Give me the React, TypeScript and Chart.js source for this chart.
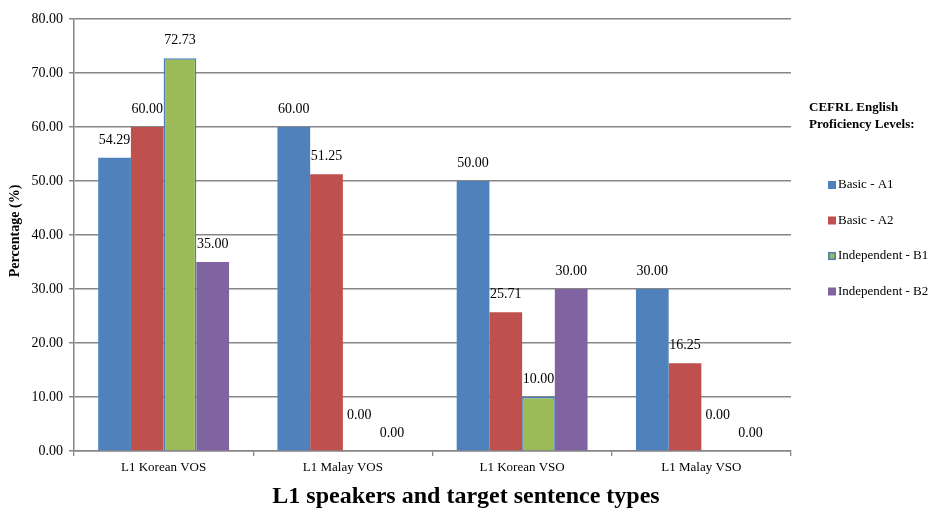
import React, { useEffect, useRef } from "react";
import { Chart, registerables } from "chart.js";

Chart.register(...registerables);

const categories = ["L1 Korean VOS", "L1 Malay VOS", "L1 Korean VSO", "L1 Malay VSO"];
const seriesNames = ["Basic - A1", "Basic - A2", "Independent - B1", "Independent - B2"];
const basicA1 = [54.29, 60.0, 50.0, 30.0];
const basicA2 = [60.0, 51.25, 25.71, 16.25];
const independentB1 = [72.73, 0.0, 10.0, 0.0];
const independentB2 = [35.0, 0.0, 30.0, 0.0];
const seriesColors = ["#4F81BD", "#C0504D", "#9BBB59", "#8064A2"];
const yTicks = [0, 10, 20, 30, 40, 50, 60, 70, 80];
const legendTitle = ["CEFRL English", "Proficiency Levels:"];
const xTitle = "L1 speakers and target sentence types";
const yTitle = "Percentage (%)";

const SERIF = "'Liberation Serif', 'Times New Roman', serif";

const overlayPlugin = {
  id: "overlay",
  afterDatasetsDraw(chart: any) {
    const ctx = chart.ctx;
    ctx.save();
    // data labels
    ctx.font = `14px ${SERIF}`;
    ctx.fillStyle = "#000";
    ctx.textAlign = "center";
    ctx.textBaseline = "middle";
    chart.data.datasets.forEach((ds: any, di: number) => {
      const meta = chart.getDatasetMeta(di);
      meta.data.forEach((bar: any, i: number) => {
        const v = ds.data[i];
        const lift = v === 0 && di === 2 ? 36 : 18;
        ctx.fillText(v.toFixed(2), bar.x, bar.y - lift);
      });
    });
    // legend
    ctx.textAlign = "left";
    ctx.font = `bold 13px ${SERIF}`;
    ctx.fillText(legendTitle[0], 809, 108);
    ctx.fillText(legendTitle[1], 809, 125);
    ctx.font = `13px ${SERIF}`;
    seriesNames.forEach((name, i) => {
      const y = 185 + i * 35.5;
      ctx.fillStyle = seriesColors[i];
      ctx.fillRect(828, y - 4, 8, 8);
      if (i === 2) {
        ctx.strokeStyle = "#4A7EBB";
        ctx.lineWidth = 1.5;
        ctx.strokeRect(828.75, y - 3.25, 6.5, 6.5);
      }
      ctx.fillStyle = "#000";
      ctx.fillText(name, 838, y);
    });
    // axis titles
    ctx.textAlign = "center";
    ctx.font = `bold 24px ${SERIF}`;
    ctx.fillText(xTitle, 466, 497);
    ctx.save();
    ctx.translate(15, 231);
    ctx.rotate(-Math.PI / 2);
    ctx.font = `bold 14px ${SERIF}`;
    ctx.fillText(yTitle, 0, 0);
    ctx.restore();
    ctx.restore();
  },
};

export default function App() {
  const ref = useRef<HTMLCanvasElement | null>(null);
  useEffect(() => {
    document.body.style.margin = "0";
    const values = [basicA1, basicA2, independentB1, independentB2];
    const chart = new Chart(ref.current as HTMLCanvasElement, {
      type: "bar",
      data: {
        labels: categories,
        datasets: seriesNames.map((name, i) => ({
          label: name,
          data: values[i],
          backgroundColor: seriesColors[i],
          borderColor: i === 2 ? "#4A7EBB" : seriesColors[i],
          borderWidth: i === 2 ? 1.5 : 0,
          categoryPercentage: 0.73,
          barPercentage: 1,
        })),
      },
      options: {
        responsive: false,
        animation: false,
        layout: { padding: { top: 19, right: 142, left: 0, bottom: 0 } },
        plugins: { legend: { display: false }, tooltip: { enabled: false } },
        scales: {
          x: {
            grid: {
              display: true,
              drawOnChartArea: false,
              drawTicks: true,
              tickLength: 5,
              color: "#868686",
              lineWidth: 1.3,
            },
            border: { color: "#868686", width: 1.5 },
            ticks: { font: { family: SERIF, size: 13 }, color: "#000", padding: 4 },
            afterFit: (s: any) => {
              s.height = 61;
            },
          },
          y: {
            min: 0,
            max: 80,
            afterBuildTicks: (s: any) => {
              s.ticks = yTicks.map((v) => ({ value: v }));
            },
            grid: { color: "#868686", lineWidth: 1.5, tickLength: 5, drawTicks: true },
            border: { color: "#868686", width: 1.5 },
            ticks: {
              font: { family: SERIF, size: 14 },
              color: "#000",
              padding: 6,
              callback: (v: any) => Number(v).toFixed(2),
            },
            afterFit: (s: any) => {
              s.width = 74;
            },
          },
        },
      },
      plugins: [overlayPlugin],
    });
    return () => chart.destroy();
  }, []);
  return (
    <div style={{ position: "absolute", left: 0, top: 0, width: 933, height: 512, background: "#fff" }}>
      <canvas ref={ref} width={933} height={512} />
    </div>
  );
}
